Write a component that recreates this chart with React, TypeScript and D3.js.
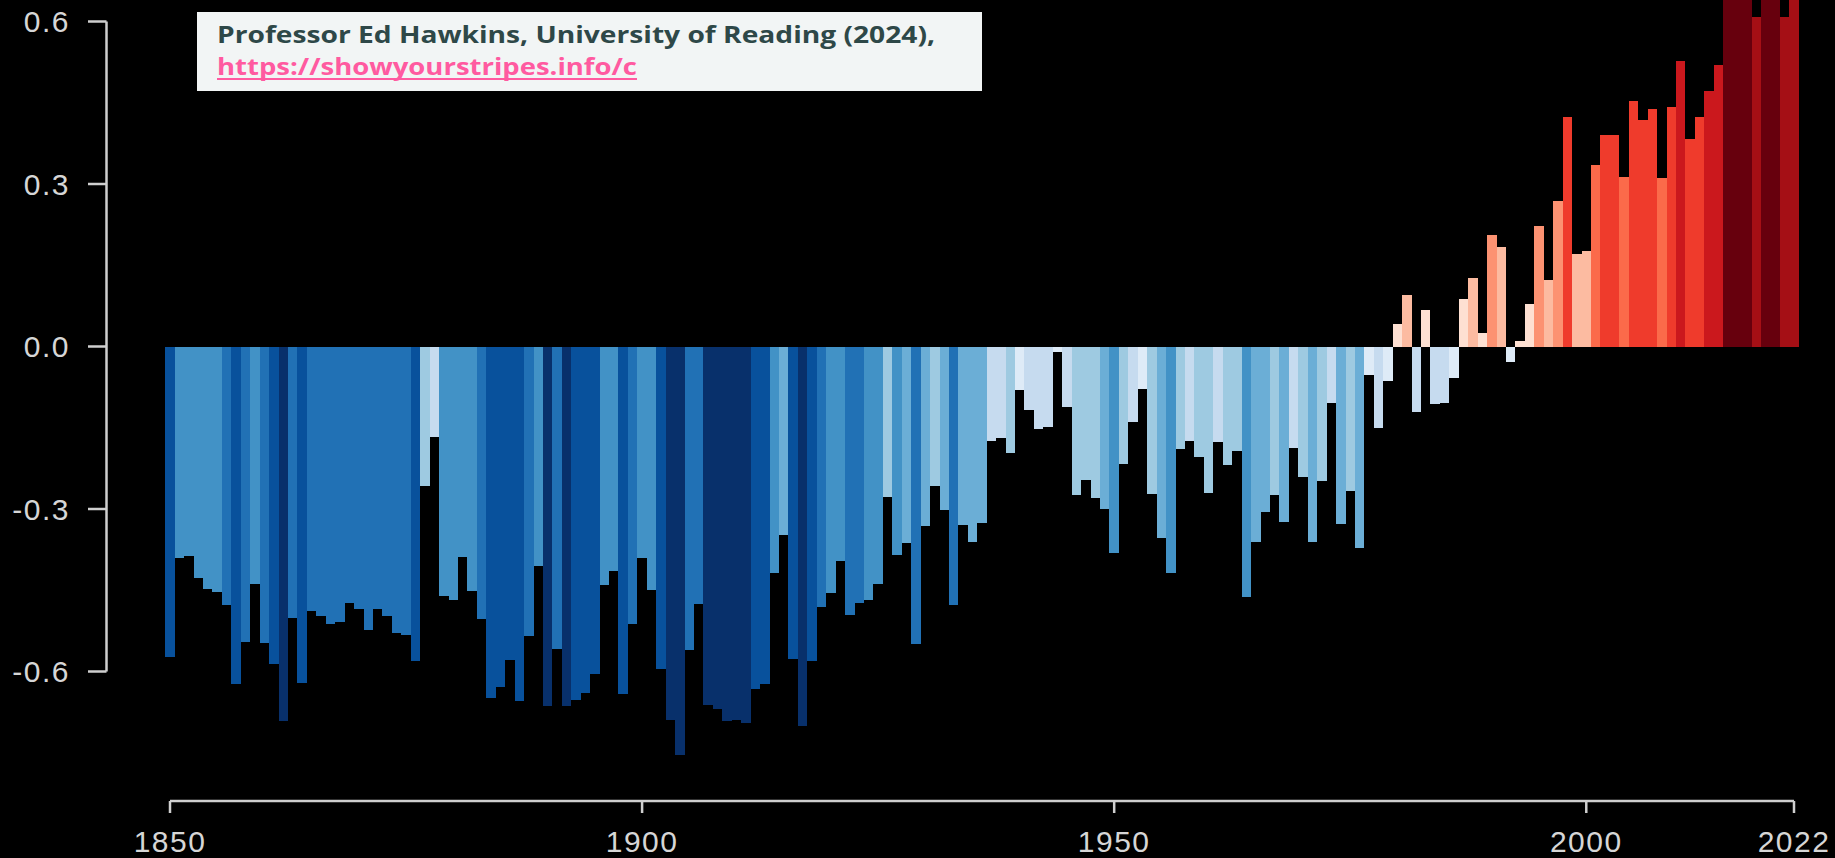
import React, { useEffect, useRef } from 'react';
import * as d3 from 'd3';

// global temperature anomaly (°C), one value per year
const years = d3.range(1850, 2023);
const anomalies = [
  -0.574, -0.390, -0.386, -0.427, -0.447, -0.454, -0.477, -0.623, -0.546, -0.438,
  -0.547, -0.586, -0.692, -0.501, -0.622, -0.489, -0.498, -0.513, -0.509, -0.473,
  -0.484, -0.524, -0.484, -0.498, -0.529, -0.532, -0.580, -0.257, -0.167, -0.460,
  -0.468, -0.389, -0.452, -0.503, -0.649, -0.628, -0.578, -0.655, -0.535, -0.406,
  -0.663, -0.558, -0.664, -0.652, -0.640, -0.604, -0.440, -0.415, -0.642, -0.512,
  -0.391, -0.449, -0.595, -0.689, -0.754, -0.560, -0.475, -0.661, -0.670, -0.692,
  -0.689, -0.695, -0.632, -0.623, -0.418, -0.348, -0.577, -0.700, -0.581, -0.481,
  -0.455, -0.396, -0.495, -0.474, -0.468, -0.438, -0.278, -0.385, -0.362, -0.549,
  -0.332, -0.258, -0.302, -0.478, -0.330, -0.361, -0.326, -0.174, -0.168, -0.196,
  -0.080, -0.117, -0.153, -0.149, -0.011, -0.112, -0.274, -0.247, -0.280, -0.300,
  -0.382, -0.217, -0.140, -0.078, -0.272, -0.353, -0.418, -0.190, -0.174, -0.204,
  -0.271, -0.176, -0.219, -0.193, -0.462, -0.360, -0.305, -0.274, -0.324, -0.187,
  -0.241, -0.361, -0.249, -0.105, -0.327, -0.267, -0.372, -0.052, -0.150, -0.064,
  0.041, 0.095, -0.120, 0.068, -0.106, -0.105, -0.058, 0.088, 0.127, 0.025,
  0.206, 0.183, -0.029, 0.011, 0.079, 0.222, 0.122, 0.268, 0.423, 0.170,
  0.176, 0.335, 0.390, 0.390, 0.313, 0.454, 0.419, 0.438, 0.311, 0.443,
  0.527, 0.383, 0.423, 0.472, 0.519, 0.670, 0.780, 0.700, 0.609, 0.740,
  0.770, 0.609, 0.648,
];

const xTicks = [1850, 1900, 1950, 2000, 2022];
const yTicks = [-0.6, -0.3, 0, 0.3, 0.6];

const stripeColors = [
  '#08306b', '#08519c', '#2171b5', '#4292c6', '#6baed6', '#9ecae1', '#c6dbef', '#deebf7',
  '#fee0d2', '#fcbba1', '#fc9272', '#fb6a4a', '#ef3b2c', '#cb181d', '#a50f15', '#67000d',
];

const creditLine = 'Professor Ed Hawkins, University of Reading (2024),';
const creditLink = 'https://showyourstripes.info/c';

const WIDTH = 1835;
const HEIGHT = 858;

const WarmingBars = () => {
  const ref = useRef<SVGSVGElement>(null);

  useEffect(() => {
    draw();
  }, []);

  const draw = () => {
    const svg = d3.select(ref.current);
    svg.selectAll('*').remove();

    const x = d3.scaleLinear().domain([1850, 2022]).range([170, 1794]);
    const y = d3.scaleLinear().domain([-0.6, 0.6]).range([671.5, 21.5]);
    const color = d3.scaleQuantize<string>().domain([-0.75, 0.75]).range(stripeColors);
    const bw = x(1851) - x(1850);

    const data = years.map((yr, i) => ({ year: yr, value: anomalies[i] }));

    svg.append('rect').attr('width', WIDTH).attr('height', HEIGHT).attr('fill', '#000');

    // bars
    svg.append('g')
      .selectAll('rect')
      .data(data)
      .enter()
      .append('rect')
      .attr('x', (d) => x(d.year) - bw / 2)
      .attr('width', bw)
      .attr('y', (d) => y(Math.max(0, d.value)))
      .attr('height', (d) => Math.abs(y(d.value) - y(0)))
      .attr('fill', (d) => color(d.value))
      .attr('shape-rendering', 'crispEdges');

    const axisColor = '#cfcfcf';
    const labelFont = '"Liberation Sans", Arial, sans-serif';

    // y axis
    const yAxis = svg.append('g');
    yAxis.append('line')
      .attr('x1', 106.5).attr('x2', 106.5)
      .attr('y1', y(0.6)).attr('y2', y(-0.6))
      .attr('stroke', axisColor).attr('stroke-width', 2.5);
    yAxis.selectAll('.ytick')
      .data(yTicks)
      .enter()
      .append('line')
      .attr('x1', 88).attr('x2', 106.5)
      .attr('y1', (d) => y(d)).attr('y2', (d) => y(d))
      .attr('stroke', axisColor).attr('stroke-width', 2.5);
    yAxis.selectAll('.ylabel')
      .data(yTicks)
      .enter()
      .append('text')
      .attr('x', 70)
      .attr('y', (d) => y(d))
      .attr('dy', '0.36em')
      .attr('text-anchor', 'end')
      .attr('fill', '#d6d6d6')
      .style('font-family', labelFont)
      .style('font-size', '30px')
      .style('letter-spacing', '1.5px')
      .text((d) => d.toFixed(1));

    // x axis
    const xAxis = svg.append('g');
    const axisY = 801;
    xAxis.append('line')
      .attr('x1', x(1850)).attr('x2', x(2022))
      .attr('y1', axisY).attr('y2', axisY)
      .attr('stroke', axisColor).attr('stroke-width', 2.5);
    xAxis.selectAll('.xtick')
      .data(xTicks)
      .enter()
      .append('line')
      .attr('x1', (d) => x(d)).attr('x2', (d) => x(d))
      .attr('y1', axisY).attr('y2', 813)
      .attr('stroke', axisColor).attr('stroke-width', 2.5);
    xAxis.selectAll('.xlabel')
      .data(xTicks)
      .enter()
      .append('text')
      .attr('x', (d) => x(d))
      .attr('y', 852)
      .attr('text-anchor', 'middle')
      .attr('fill', '#d6d6d6')
      .style('font-family', labelFont)
      .style('font-size', '30px')
      .style('letter-spacing', '1.5px')
      .text((d) => String(d));

    // credit box
    const credit = svg.append('g');
    credit.append('rect')
      .attr('x', 197).attr('y', 12)
      .attr('width', 785).attr('height', 79)
      .attr('fill', '#f2f5f5');
    credit.append('text')
      .attr('x', 217).attr('y', 43)
      .attr('fill', '#2e4848')
      .attr('textLength', 718)
      .attr('lengthAdjust', 'spacingAndGlyphs')
      .style('font-family', '"Open Sans", Lato, sans-serif')
      .style('font-weight', 700)
      .style('font-size', '23px')
      .text(creditLine);
    credit.append('text')
      .attr('x', 217).attr('y', 75)
      .attr('fill', '#ff5aa0')
      .attr('textLength', 420)
      .attr('lengthAdjust', 'spacingAndGlyphs')
      .style('font-family', '"Open Sans", Lato, sans-serif')
      .style('font-weight', 700)
      .style('font-size', '23px')
      .text(creditLink);
    credit.append('line')
      .attr('x1', 217).attr('x2', 637)
      .attr('y1', 79).attr('y2', 79)
      .attr('stroke', '#ff5aa0').attr('stroke-width', 2);
  };

  return (
    <svg
      ref={ref}
      width={WIDTH}
      height={HEIGHT}
      style={{ position: 'absolute', left: 0, top: 0, display: 'block', background: '#000' }}
    />
  );
};

export default function App() {
  return <WarmingBars />;
}
